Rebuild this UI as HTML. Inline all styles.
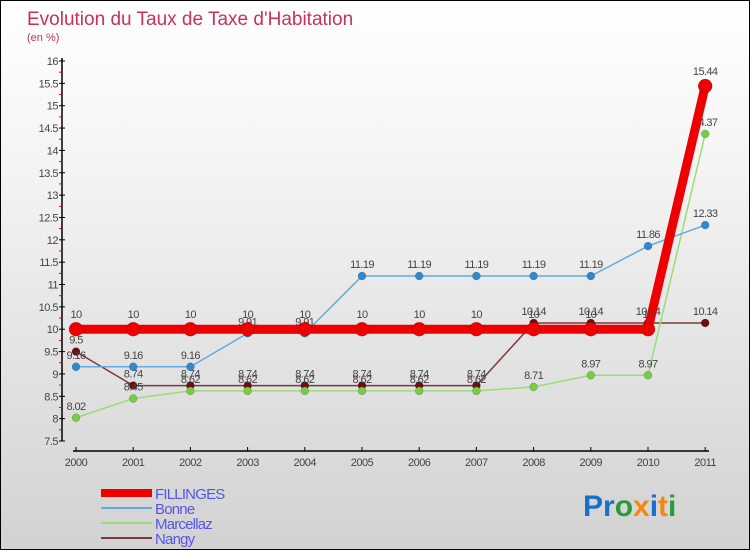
<!DOCTYPE html>
<html><head><meta charset="utf-8"><style>
body{margin:0;}
#wrap{width:750px;height:550px;position:relative;box-sizing:border-box;border:1px solid #000;background:linear-gradient(#ffffff,#f4f4f4 30%,#d2d2d2);overflow:hidden;font-family:"Liberation Sans",sans-serif;}
</style></head><body>
<div id="wrap">
<svg id="chart" width="750" height="550" style="position:absolute;left:0;top:0">
<text x="26" y="24" font-size="19" fill="#c8305e">Evolution du Taux de Taxe d'Habitation</text>
<text x="26" y="40" font-size="11" fill="#c8305e">(en %)</text>
<g id="axes"></g><g id="series"></g><g id="legend"></g>
<text x="582" y="515" font-size="30" font-weight="bold"><tspan fill="#1a6fc8">Pr</tspan><tspan fill="#2a9a3a">o</tspan><tspan fill="#f08a10">x</tspan><tspan fill="#1a6fc8">i</tspan><tspan fill="#f08a10">t</tspan><tspan fill="#2a9a3a">i</tspan></text>
</svg>
</div>
<script>
const years=["2000","2001","2002","2003","2004","2005","2006","2007","2008","2009","2010","2011"];
const fillinges=[10,10,10,10,10,10,10,10,10,10,10,15.44];
const bonne=[9.16,9.16,9.16,9.91,9.91,11.19,11.19,11.19,11.19,11.19,11.86,12.33];
const marcellaz=[8.02,8.45,8.62,8.62,8.62,8.62,8.62,8.62,8.71,8.97,8.97,14.37];
const nangy=[9.5,8.74,8.74,8.74,8.74,8.74,8.74,8.74,10.14,10.14,10.14,10.14];
const yTicks=["7.5","8","8.5","9","9.5","10","10.5","11","11.5","12","12.5","13","13.5","14","14.5","15","15.5","16"];
const NS="http://www.w3.org/2000/svg";
const yMin=7.5,yMax=16,yTop=60,yBot=440;
function ys(v){return yBot-(v-yMin)/(yMax-yMin)*(yBot-yTop);}
function xs(i){return 75+i*57.2;}
function mk(tag,attrs,parent,txt){const e=document.createElementNS(NS,tag);for(const k in attrs)e.setAttribute(k,attrs[k]);if(txt!==undefined)e.textContent=txt;parent.appendChild(e);return e;}
const ax=document.getElementById('axes');
let l=mk('line',{x1:61,y1:yTop-3,x2:61,y2:yBot,stroke:'#000','stroke-width':1.5},ax);


yTicks.forEach((t,i)=>{const v=parseFloat(t),y=ys(v);
 mk('line',{x1:58,y1:y,x2:64,y2:y,stroke:'#000'},ax);
 const tx=mk('text',{x:57,y:y+4,'font-size':11,fill:'#444','text-anchor':'end','letter-spacing':'-0.5'},ax,t);
 
 
 if(i<yTicks.length-1)mk('line',{x1:58,y1:ys(v+0.25),x2:61,y2:ys(v+0.25),stroke:'#e00'},ax);
});
l=mk('line',{x1:72,y1:450,x2:708,y2:450,stroke:'#000','stroke-width':1.5},ax);


years.forEach((yr,i)=>{const x=xs(i);mk('line',{x1:x,y1:446,x2:x,y2:450,stroke:'#000'},ax);
 const tx=mk('text',{x:x,y:465,'font-size':11,fill:'#444','text-anchor':'middle','letter-spacing':'-0.5'},ax,yr);
 
 
});
const sg=document.getElementById('series');
const defs=[
 {name:'nangy',data:nangy,color:'#7a3a3a',dot:'#6a1010',w:1.5,r:4},
 {name:'marcellaz',data:marcellaz,color:'#99dd77',dot:'#77cc44',w:1.5,r:4},
 {name:'bonne',data:bonne,color:'#66aadd',dot:'#3388cc',w:1.5,r:4},
 {name:'fillinges',data:fillinges,color:'#ee0000',dot:'#ee0000',w:9,r:7}];
defs.forEach(s=>{
 const g=mk('g',{},sg);
 
 
 const p=mk('polyline',{points:s.data.map((v,i)=>xs(i)+','+ys(v)).join(' '),fill:'none',stroke:s.color,'stroke-width':s.w},g);
 
 
 s.data.forEach((v,i)=>{
  const c=mk('circle',{cx:xs(i),cy:ys(v),r:s.r,fill:s.dot,stroke:'rgba(0,0,0,0.25)','stroke-width':0.5},g);
  
  
  const t=mk('text',{x:xs(i),y:ys(v)-s.r-4,'font-size':11,fill:'#444','text-anchor':'middle','letter-spacing':'-0.6'},g,String(v));
  
  
 });
});
const lg=document.getElementById('legend');
const leg=[['FILLINGES','#ee0000',8],['Bonne','#66aadd',2],['Marcellaz','#99dd77',2],['Nangy','#7a3a3a',2]];
leg.forEach((e,i)=>{const y=492+i*15;
 const g=mk('g',{},lg);
 
 
 mk('line',{x1:100,y1:y,x2:151,y2:y,stroke:e[1],'stroke-width':e[2]},g);
 mk('text',{x:154,y:y+6,'font-size':15,fill:'#5555ee','letter-spacing':'-0.8'},g,e[0]);
});
</script>
</body></html>
